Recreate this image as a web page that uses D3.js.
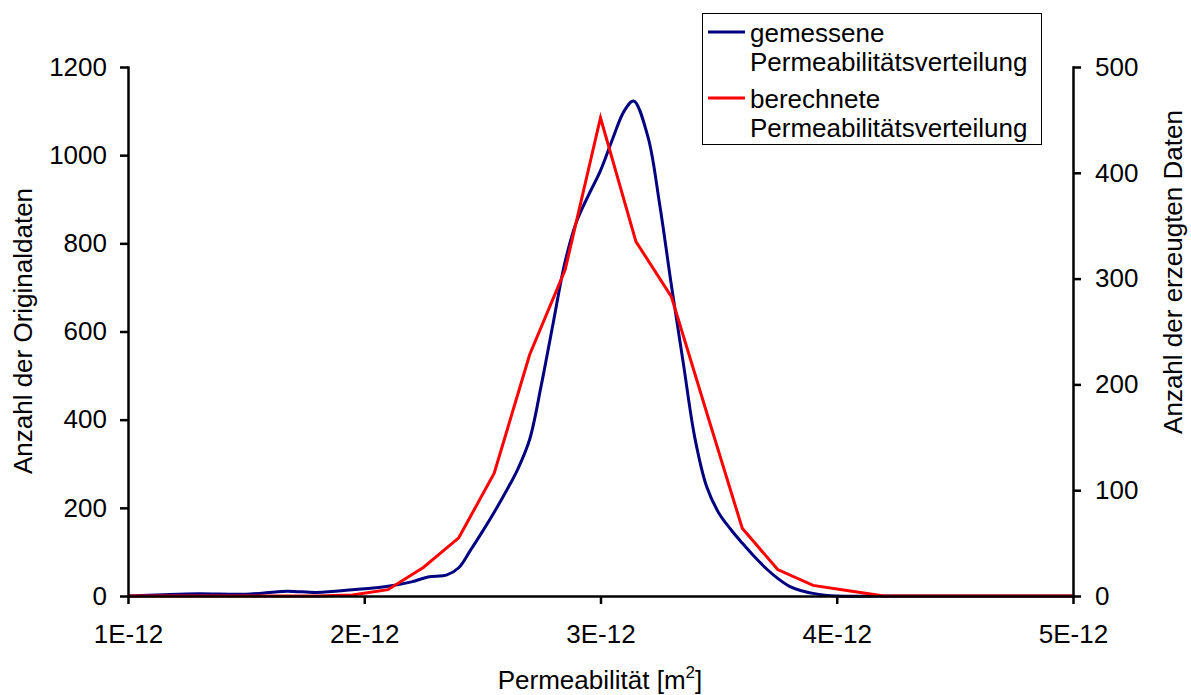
<!DOCTYPE html>
<html>
<head>
<meta charset="utf-8">
<script src="https://cdn.jsdelivr.net/npm/d3@7"></script>
<style>
    body { margin: 0; background: #fff; }
    text { font-family: "Liberation Sans", Arial, sans-serif; fill: #000; }
    .axis path, .axis line { stroke: #000; stroke-width: 2.5px; }
    .axis text { font-size: 26px; }
</style>
</head>
<body>
<div id="chart"></div>
<script>
// x values in units of 1E-12 m^2
var measuredX = [1.00, 1.15, 1.30, 1.50, 1.67, 1.80, 1.95, 2.10, 2.20, 2.27, 2.35, 2.40, 2.45, 2.50, 2.55, 2.60, 2.65, 2.70, 2.75, 2.80, 2.85, 2.90, 2.95, 3.00, 3.05, 3.10, 3.14, 3.20, 3.25, 3.30, 3.35, 3.40, 3.45, 3.50, 3.55, 3.60, 3.65, 3.70, 3.75, 3.80, 3.85, 3.90, 3.95, 4.00, 4.30, 5.00];
var measuredY = [0, 3, 5, 4, 11, 8, 14, 22, 32, 43, 48, 64, 104, 146, 190, 237, 288, 355, 480, 620, 758, 851, 910, 965, 1035, 1100, 1123, 1043, 890, 705, 530, 357, 247, 189, 152, 120, 90, 63, 40, 22, 12, 6, 2, 0, 0, 0];

var computedX = [1.00, 1.05, 1.20, 1.35, 1.50, 1.65, 1.80, 1.95, 2.10, 2.25, 2.40, 2.55, 2.70, 2.85, 3.00, 3.15, 3.30, 3.45, 3.60, 3.75, 3.90, 4.05, 4.20, 4.35, 4.50, 4.65, 4.80, 4.95, 5.00];
var computedY = [0, 0, 0, 0, 0, 0, 0, 1, 6, 27, 55, 116, 228, 308, 452, 335, 283, 173, 64, 25, 10, 5, 0, 0, 0, 0, 0, 0, 0];

var xTicks = [1, 2, 3, 4, 5];
var leftTicks = [0, 200, 400, 600, 800, 1000, 1200];
var rightTicks = [0, 100, 200, 300, 400, 500];

var seriesNames = ["gemessene", "berechnete"];
var seriesColors = ["#000080", "#ff0000"];

var svgWidth = 1191;
var svgHeight = 695;

var margin = { top: 67, right: 118, bottom: 99, left: 128 };
var width = svgWidth - margin.left - margin.right;
var height = svgHeight - margin.top - margin.bottom;

var svg = d3.select("#chart")
    .append("svg")
    .attr("width", svgWidth)
    .attr("height", svgHeight);

var chartGroup = svg.append("g")
    .attr("transform", `translate(${margin.left}, ${margin.top})`);

var xScale = d3.scaleLinear().domain([1, 5]).range([0, width]);
var yLeft = d3.scaleLinear().domain([0, 1200]).range([height, 0]);
var yRight = d3.scaleLinear().domain([0, 500]).range([height, 0]);

var measured = measuredX.map((x, i) => ({ x: x, y: measuredY[i] }));
var computed = computedX.map((x, i) => ({ x: x, y: computedY[i] }));

var measuredLine = d3.line()
    .x(d => xScale(d.x))
    .y(d => yLeft(d.y))
    .curve(d3.curveCatmullRom.alpha(0.5));

var computedLine = d3.line()
    .x(d => xScale(d.x))
    .y(d => yRight(d.y));

chartGroup.append("path")
    .datum(measured)
    .attr("fill", "none")
    .attr("stroke", seriesColors[0])
    .attr("stroke-width", 3)
    .attr("d", measuredLine);

chartGroup.append("path")
    .datum(computed)
    .attr("fill", "none")
    .attr("stroke", seriesColors[1])
    .attr("stroke-width", 3)
    .attr("d", computedLine);

// axes
var bottomAxis = d3.axisBottom(xScale)
    .tickValues(xTicks)
    .tickSize(8)
    .tickPadding(21)
    .tickSizeOuter(0)
    .tickFormat(d => d + "E-12");

var leftAxis = d3.axisLeft(yLeft)
    .tickValues(leftTicks)
    .tickSize(8)
    .tickPadding(13)
    .tickSizeOuter(0)
    .tickFormat(d3.format("d"));

var rightAxis = d3.axisRight(yRight)
    .tickValues(rightTicks)
    .tickSize(8)
    .tickPadding(14)
    .tickSizeOuter(0)
    .tickFormat(d3.format("d"));

chartGroup.append("g")
    .attr("class", "axis")
    .attr("transform", `translate(0, ${height})`)
    .call(bottomAxis);

chartGroup.append("g")
    .attr("class", "axis")
    .call(leftAxis);

chartGroup.append("g")
    .attr("class", "axis")
    .attr("transform", `translate(${width}, 0)`)
    .call(rightAxis);

chartGroup.selectAll(".axis .domain").attr("stroke-linecap", "square");
chartGroup.selectAll(".axis text").attr("font-family", null);

// axis titles
var xTitle = svg.append("text")
    .attr("x", 600)
    .attr("y", 689)
    .attr("text-anchor", "middle")
    .attr("font-size", 26);
xTitle.append("tspan").text("Permeabilität [m");
xTitle.append("tspan").attr("font-size", 17).attr("dy", -11).text("2");
xTitle.append("tspan").attr("dy", 11).text("]");

svg.append("text")
    .attr("transform", "translate(32, 331) rotate(-90)")
    .attr("text-anchor", "middle")
    .attr("font-size", 26)
    .text("Anzahl der Originaldaten");

svg.append("text")
    .attr("transform", "translate(1182, 272) rotate(-90)")
    .attr("text-anchor", "middle")
    .attr("font-size", 26)
    .text("Anzahl der erzeugten Daten");

// legend
var legend = svg.append("g");

legend.append("rect")
    .attr("x", 702.5)
    .attr("y", 13.5)
    .attr("width", 339)
    .attr("height", 131)
    .attr("fill", "#fff")
    .attr("stroke", "#000")
    .attr("stroke-width", 1);

seriesNames.forEach(function (name, i) {
    var y0 = 32 + i * 66;
    legend.append("line")
        .attr("x1", 708)
        .attr("x2", 745)
        .attr("y1", y0)
        .attr("y2", y0)
        .attr("stroke", seriesColors[i])
        .attr("stroke-width", 3);
    legend.append("text")
        .attr("x", 750)
        .attr("y", y0 + 10)
        .attr("font-size", 26)
        .text(name);
    legend.append("text")
        .attr("x", 750)
        .attr("y", y0 + 39)
        .attr("font-size", 26)
        .text("Permeabilitätsverteilung");
});
</script>
</body>
</html>
